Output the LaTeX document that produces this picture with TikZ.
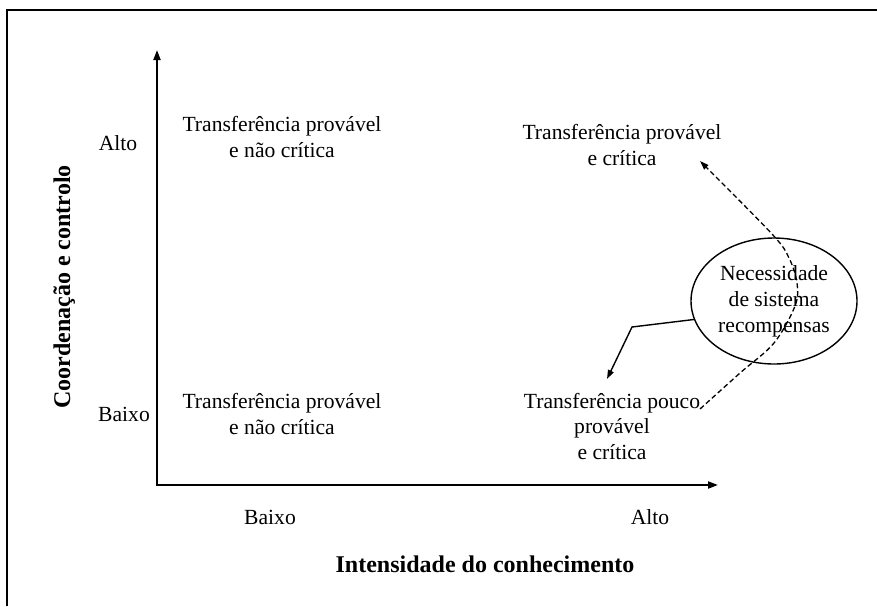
\documentclass[tikz,border=0pt]{standalone}
\usepackage{fontspec}
\setmainfont{Liberation Serif}
\usetikzlibrary{shapes.geometric,arrows.meta}
\begin{document}
\begin{tikzpicture}[x=1pt,y=-1pt,
  txt/.style={font=\fontsize{21.6}{25.5}\selectfont, align=center, inner sep=0pt, anchor=base},
  axlab/.style={font=\bfseries\fontsize{24}{28}\selectfont, inner sep=0pt, anchor=base},
  axisline/.style={line width=2pt, line join=miter, {Triangle[length=10pt,width=7pt]}-{Triangle[length=10pt,width=7pt]}},
  framestyle/.style={line width=2pt, line join=miter},
  blob/.style={ellipse, draw, line width=1.4pt, minimum width=166pt, minimum height=126pt, inner sep=0pt,
     align=center, font=\fontsize{21.6}{26}\selectfont},
  solidarrow/.style={line width=1.4pt, -{Triangle[length=9pt,width=6pt]}},
  dasharrow/.style={line width=1.3pt, dash pattern=on 5pt off 3pt, -{Triangle[length=9pt,width=6pt]}}
]
\useasboundingbox (0,0) rectangle (877,606);
% frame (only top and left visible)
\coordinate (fbl) at (7,606);
\coordinate (ftl) at (7,10);
\coordinate (ftr) at (877,10);
\draw[framestyle] (fbl) -- (ftl) -- (ftr);

% axes
\coordinate (O) at (157,485);
\coordinate (ytip) at (157,50);
\coordinate (xtip) at (718,485);
\draw[axisline] (ytip) -- (O) -- (xtip);

% axis tick labels
\node[txt] (yalto) at (118,150) {Alto};
\node[txt] (ybaixo) at (124,421) {Baixo};
\node[txt] (xbaixo) at (270,524) {Baixo};
\node[txt] (xalto) at (650,524) {Alto};

% axis titles
\node[axlab] (xtitle) at (485,572) {Intensidade do conhecimento};
\node[axlab, rotate=90] (ytitle) at (70,287) {Coordenação e controlo};

% quadrant texts (base anchor = baseline of last line)
\node[txt] (tl) at (282,157) {Transferência provável\\e não crítica};
\node[txt] (tr) at (622,165) {Transferência provável\\e crítica};
\node[txt] (bl) at (282,434) {Transferência provável\\e não crítica};
\node[txt] (br) at (612,459) {Transferência pouco\\provável\\e crítica};

% ellipse
\node[blob] (ell) at (774,301) {Necessidade\\de sistema\\recompensas};

% solid arrow from ellipse
\coordinate (kink) at (632,327);
\coordinate (stip) at (607,379);
\draw[solidarrow] (ell.193) -- (kink) -- (stip);

% dashed curved arrow
\coordinate (d0) at (700,409);
\coordinate (d1) at (740,373);
\coordinate (d2) at (774,343);
\coordinate (d3) at (795,306);
\coordinate (d4) at (797,283);
\coordinate (d5) at (789,258);
\coordinate (d6) at (772,234);
\coordinate (dtip) at (700,161);
\draw[dasharrow] plot[smooth, tension=0.55] coordinates {(d0) (d1) (d2) (d3) (d4) (d5) (d6) (dtip)};
\end{tikzpicture}
\end{document}
